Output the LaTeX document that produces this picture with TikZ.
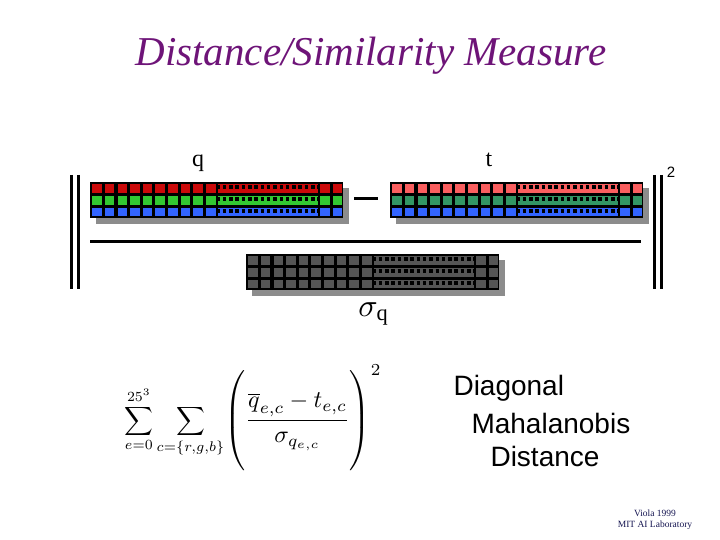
\documentclass[tikz,border=0pt]{standalone}
\usepackage{fontspec}
\setmainfont{Liberation Serif}
\newfontfamily\labelsans{Liberation Sans}
\usetikzlibrary{positioning}

\definecolor{titlepurple}{RGB}{110,20,120}
\definecolor{creditblue}{RGB}{20,20,80}
\definecolor{qred}{RGB}{204,10,10}
\definecolor{qgreen}{RGB}{50,200,50}
\definecolor{qblue}{RGB}{50,100,255}
\definecolor{tred}{RGB}{250,95,95}
\definecolor{tgreen}{RGB}{50,150,100}
\definecolor{sgray}{RGB}{85,85,85}
\definecolor{shadowgray}{RGB}{140,140,140}

% one histogram strip: 20 bins x 3 channels, bins 10..17 drawn dotted
\newcommand{\histbar}[5]{%
  \fill[shadowgray] (#1+6,#2+6) rectangle +(253,36);
  \fill[black] (#1,#2) rectangle +(253,36);
  \foreach \r/\c in {0/#3,1/#4,2/#5}{
    \foreach \k in {0,...,9,18,19}
      \fill[\c] (#1+\k*12.65+2.2,#2+\r*11.8+2.2) rectangle +(9.6,8.6);
    \fill[\c] (#1+10*12.65+1,#2+\r*11.8+2.2) rectangle +(8*12.65-1,8.6);
    \draw[line width=4,dash pattern=on 3.5 off 2.8] (#1+10*12.65,#2+\r*11.8+5.2) -- +(8*12.65,0);
  }
}

\begin{document}
\begin{tikzpicture}[x=1pt,y=-1pt]
  \useasboundingbox (0,0) rectangle (720,540);

  % Title
  \node[titlepurple,font=\fontsize{41}{44}\selectfont\itshape,anchor=base] (title) at (371,66) {Distance/Similarity Measure};

  % Norm bars and fraction
  \draw[line width=3] (71.5,175) -- (71.5,289);
  \draw[line width=3] (78.5,175) -- (78.5,289);
  \draw[line width=3] (654,175) -- (654,289);
  \draw[line width=3] (661,175) -- (661,289);
  \draw[line width=3] (90,241) -- (641,241);
  \draw[line width=3] (354,199) -- (378,199);
  \node[font=\labelsans\fontsize{15}{16}\selectfont] (pow) at (671,172) {2};

  % Histograms
  \histbar{90}{182}{qred}{qgreen}{qblue}
  \histbar{390}{182}{tred}{tgreen}{qblue}
  \histbar{246}{254}{sgray}{sgray}{sgray}

  \node[font=\fontsize{24}{26}\selectfont] (lblq) at (198,163) {q};
  \node[font=\fontsize{24}{26}\selectfont] (lblt) at (489,160) {t};
  \node[scale=3.2] (sq) at (374,314) {$\sigma_{\mathrm{q}}$};

  % Formula
  \node[scale=2.0,inner sep=0pt] (formula) at (253,418)
    {$\displaystyle\sum_{e=0}^{25^3}\sum_{c=\{r,g,b\}}\!\scalebox{1.2}{$\displaystyle\left(\rule[-18pt]{0pt}{41pt}\frac{\overline{q}_{e,c}-t_{e,c}}{\sigma_{q_{e,c}}}\right)^{2}$}$};

  % Name
  \node[font=\labelsans\fontsize{28}{30}\selectfont,anchor=west] (mahal1) at (450,388) {Diagonal};
  \node[font=\labelsans\fontsize{28}{30}\selectfont,anchor=west] (mahal2) at (468,423) {Mahalanobis};
  \node[font=\labelsans\fontsize{28}{30}\selectfont,anchor=west] (mahal3) at (487,456) {Distance};

  % Credit
  \node[creditblue,font=\fontsize{9.5}{11}\selectfont,align=center] (credit) at (655,520) {Viola 1999\\MIT AI Laboratory};
\end{tikzpicture}
\end{document}
